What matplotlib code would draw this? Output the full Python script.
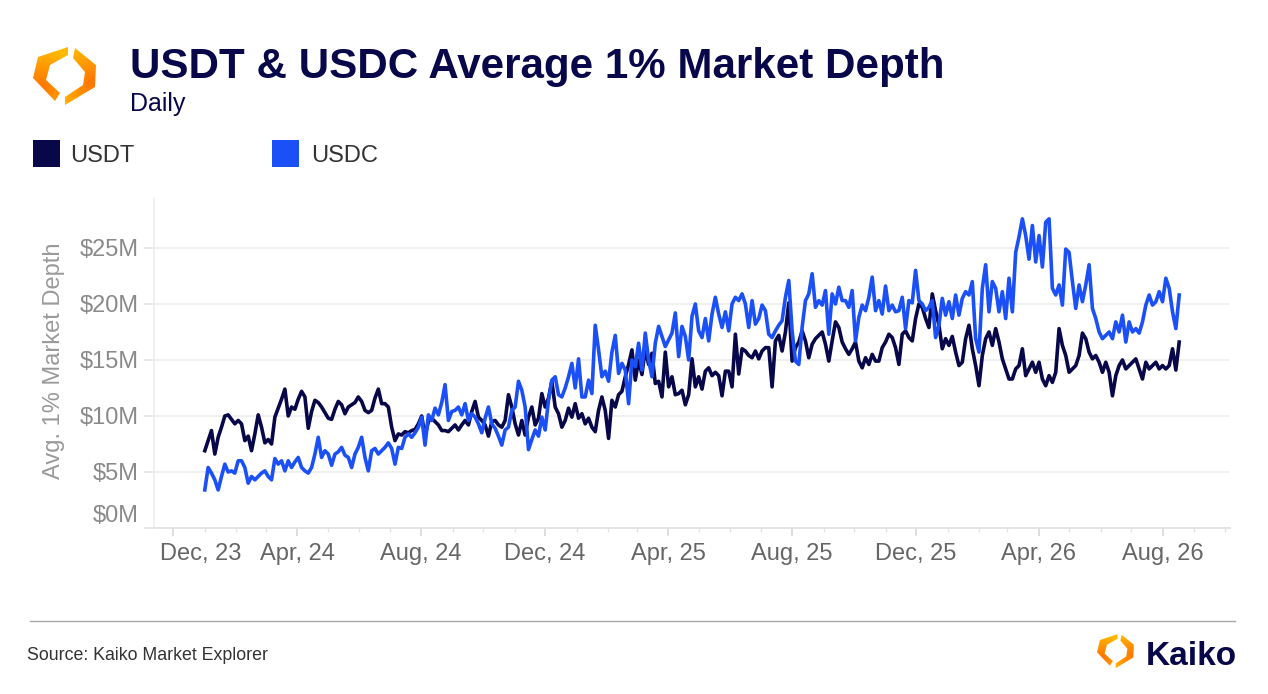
"""
USDT & USDC average 1% market depth, daily - Kaiko style chart
"""

import matplotlib
matplotlib.use("Agg")
import matplotlib.pyplot as plt
import matplotlib.dates as mdates
import matplotlib.transforms as mtransforms
from matplotlib.patches import Rectangle, Polygon
from matplotlib.colors import LinearSegmentedColormap
import numpy as np
import pandas as pd

plt.rcParams["font.family"] = ["Liberation Sans", "DejaVu Sans"]

# colours
NAVY = "#07074a"
BLUE = "#1a50f5"
ORANGE = "#ff7400"
YELLOW = "#ffb800"

# series range (daily data, sampled every ~3 days)
START = "2024-01-01"
END = "2026-08-17"

# values in $M
usdt = [
    6.9, 7.8, 8.7, 6.6, 8.1, 9.0, 10.0, 10.1, 9.7, 9.3,
    9.6, 9.3, 7.8, 8.2, 6.9, 8.4, 10.1, 9.0, 7.6, 7.9,
    7.5, 9.9, 10.7, 11.5, 12.4, 10.0, 10.8, 10.6, 11.5, 12.2,
    11.7, 8.9, 10.4, 11.4, 11.2, 10.8, 10.3, 9.8, 9.7, 10.6,
    11.3, 11.0, 10.2, 10.8, 11.0, 11.2, 11.7, 11.3, 10.5, 10.3,
    10.5, 11.6, 12.4, 11.1, 11.1, 10.8, 9.0, 7.8, 8.4, 8.3,
    8.6, 8.5, 8.7, 8.8, 9.3, 10.0, 8.2, 9.5, 9.8, 9.5,
    9.2, 8.7, 8.7, 8.6,
    8.9, 9.2, 8.75, 9.2, 9.6, 9.2, 10.4, 11.3, 9.9, 9.6,
    9.2, 8.2, 9.5, 9.6, 9.2, 9.0, 9.6, 11.9, 10.8, 9.3,
    8.3, 9.6, 8.3, 9.9, 10.8, 9.2, 9.8, 12.0, 10.8, 11.6,
    13.1, 10.8, 10.2, 9.0, 9.6, 10.7, 9.9, 11.1, 9.8, 10.2,
    9.3, 9.8, 9.0, 8.6, 10.5, 11.7, 10.5, 8.0, 11.4, 10.8,
    11.9, 12.2, 13.5, 14.6, 15.9, 13.2, 15.0, 13.7, 16.0, 14.6,
    15.6, 12.9, 13.1, 11.7, 15.7, 12.6, 13.5, 11.9, 12.0, 12.3,
    11.0, 11.9, 15.1,
    12.6, 13.5, 12.4, 14.0, 14.3, 13.6, 13.9, 13.6, 11.8, 14.0,
    14.0, 12.6, 17.3, 13.75, 16.0, 15.8, 15.4, 15.2, 15.8, 15.1,
    15.8, 16.1, 16.1, 12.6, 16.7, 17.2, 15.8, 17.5, 20.1, 14.9,
    16.1, 16.6, 17.6, 16.7, 15.2, 16.4, 16.9, 17.2, 17.5, 16.4,
    14.9, 16.7, 18.4, 17.9, 16.6, 16.0, 15.5, 16.0, 16.6, 14.9,
    14.3, 15.2, 14.6, 15.5, 14.9, 14.9, 16.1, 16.6, 17.3, 17.0,
    16.1, 14.6, 17.3, 17.6, 17.0, 16.7, 18.7, 20.0, 19.7, 18.7,
    17.9, 20.9, 19.4,
    18.1, 16.0, 16.9, 16.3, 17.1, 15.7, 14.5, 14.8, 16.9, 18.1,
    16.0, 14.5, 12.7, 15.4, 16.9, 17.5, 16.3, 17.8, 16.6, 15.1,
    14.2, 13.3, 13.3, 14.2, 14.5, 16.0, 13.6, 14.2, 14.8, 13.9,
    14.8, 13.3, 12.7, 13.6, 13.0, 13.9, 17.8, 16.3, 15.4, 13.9,
    14.2, 14.5, 15.4, 17.4, 16.9, 15.7, 15.1, 15.4, 14.8, 13.9,
    14.8, 13.9, 11.8, 13.6, 14.5, 15.0, 14.2, 14.5, 14.8, 15.1,
    14.2, 13.3, 14.8, 14.2, 14.5, 14.8, 14.2, 14.5, 14.2, 14.5,
    16.0, 14.1, 16.6,
]

usdc = [
    3.4, 5.4, 4.9, 4.3, 3.4, 4.6, 5.7, 5.0, 5.1, 4.9,
    6.0, 6.0, 5.4, 4.0, 4.6, 4.3, 4.6, 4.9, 5.1, 4.6,
    4.3, 6.2, 5.7, 6.0, 5.1, 6.0, 5.4, 5.9, 6.3, 5.4,
    5.1, 4.9, 5.4, 6.6, 8.1, 6.3, 6.9, 6.6, 5.6, 6.6,
    6.8, 7.2, 6.5, 6.3, 5.4, 6.6, 7.2, 8.1, 6.3, 5.1,
    6.9, 7.1, 6.6, 6.9, 7.2, 7.6, 7.1, 5.7, 7.2, 7.1,
    8.1, 8.4, 8.1, 8.5, 9.0, 9.9, 7.4, 10.1, 9.6, 10.7,
    10.1, 11.2, 12.8, 9.6,
    10.4, 10.5, 10.8, 10.1, 11.1, 9.6, 10.2, 9.9, 9.3, 8.5,
    9.8, 10.8, 9.3, 8.9, 8.2, 7.4, 8.75, 9.0, 10.5, 10.8,
    13.1, 12.3, 10.8, 7.0, 7.9, 8.75, 8.2, 9.9, 8.75, 11.4,
    13.2, 13.5, 11.9, 11.7, 12.5, 13.5, 14.7, 12.5, 15.1, 11.7,
    11.7, 13.2, 12.0, 18.1, 15.9, 13.5, 14.0, 13.1, 15.7, 17.2,
    13.8, 14.7, 14.1, 11.1, 15.0, 14.4, 16.5, 14.1, 17.4, 15.0,
    13.5, 16.5, 18.0, 17.1, 16.2, 16.8, 17.4, 19.2, 15.3, 18.0,
    17.1, 15.0, 18.9,
    20.0, 17.6, 17.0, 18.7, 16.7, 19.1, 20.6, 19.1, 17.9, 19.3,
    17.6, 20.0, 20.6, 20.3, 20.9, 20.0, 17.9, 20.3, 18.2, 18.7,
    19.9, 19.4, 17.3, 17.0, 17.6, 18.1, 18.5, 20.6, 22.1, 17.6,
    14.9, 14.6, 17.9, 20.3, 20.9, 22.7, 19.7, 20.3, 19.9, 21.2,
    17.3, 20.9, 20.0, 21.5, 20.3, 20.3, 19.7, 21.2, 16.7, 18.8,
    19.9, 19.4, 20.6, 22.4, 19.4, 20.3, 19.1, 21.6, 19.4, 19.9,
    19.3, 19.4, 20.6, 17.8, 20.3, 20.1, 23.0, 20.3, 20.0, 19.4,
    19.7, 20.3, 17.0,
    18.1, 20.5, 19.0, 20.2, 18.7, 20.8, 19.0, 20.5, 21.1, 20.8,
    22.0, 16.9, 15.7, 21.4, 23.5, 19.3, 22.0, 21.4, 19.3, 21.1,
    18.7, 22.3, 19.3, 24.6, 26.0, 27.6, 26.1, 24.0, 27.0, 23.75,
    26.1, 23.3, 27.3, 27.6, 21.4, 20.8, 21.7, 19.9, 24.9, 24.6,
    22.0, 19.6, 21.7, 20.2, 21.7, 23.5, 19.6, 18.7, 17.5, 16.9,
    17.2, 17.5, 16.9, 18.4, 17.5, 19.0, 16.6, 18.4, 17.5, 17.8,
    17.4, 18.4, 19.9, 20.8, 19.9, 20.2, 21.1, 20.2, 22.3, 21.4,
    19.3, 17.8, 20.8,
]

y_ticks = [0, 5, 10, 15, 20, 25]
y_labels = ["$0M", "$5M", "$10M", "$15M", "$20M", "$25M"]
x_ticks = ["2023-12-01", "2024-04-01", "2024-08-01", "2024-12-01", "2025-04-01",
           "2025-08-01", "2025-12-01", "2026-04-01", "2026-08-01"]
x_labels = ["Dec, 23", "Apr, 24", "Aug, 24", "Dec, 24", "Apr, 25",
            "Aug, 25", "Dec, 25", "Apr, 26", "Aug, 26"]

W, H = 1268, 694


def px_rect(l, t, r, b):
    """figure rect from pixel box (top-left origin)"""
    return [l / W, 1 - b / H, (r - l) / W, (b - t) / H]


def draw_icon(a, ox, oy, s):
    """Kaiko mark: two bracket pieces of a hexagon, local box ~65x62 px"""
    pieces = [
        # outer edge, inner edge, hot (orange) spot
        ([(35, 2), (5, 12), (0, 33), (22, 56)],
         [(35, 10), (17, 20), (13, 35), (27, 48)], (8, 42)),
        ([(42, 3), (63, 20), (62, 42), (32, 60)],
         [(40, 13), (52, 27), (50, 40), (32, 52)], (60, 38)),
    ]
    cm = LinearSegmentedColormap.from_list("k", [ORANGE, "#ff9500", YELLOW])
    gx, gy = np.meshgrid(np.linspace(0, 65, 66), np.linspace(0, 62, 63))
    for outer, inner, hot in pieces:
        pts = [(ox + x * s, oy + y * s) for x, y in outer + inner[::-1]]
        poly = Polygon(pts, closed=True, facecolor="none", edgecolor="none")
        a.add_patch(poly)
        d = np.hypot(gx - hot[0], gy - hot[1])
        d = np.clip(d / 38, 0, 1)
        im = a.imshow(d, cmap=cm, aspect="auto", vmin=0, vmax=1,
                      extent=(ox, ox + 65 * s, oy + 62 * s, oy),
                      interpolation="bilinear", zorder=2)
        im.set_clip_path(poly)


fig = plt.figure(figsize=(W / 100, H / 100), dpi=100)

# ---- main chart
ax = fig.add_axes(px_rect(154, 198, 1230, 528))
ax.set_facecolor("none")
dates = pd.date_range(START, END, periods=len(usdt))
ax.plot(dates, usdt, color=NAVY, lw=2.6, zorder=3, solid_joinstyle="round")
ax.plot(dates, usdc, color=BLUE, lw=2.6, zorder=4, solid_joinstyle="round")

ax.set_xlim(pd.Timestamp("2023-11-12"), pd.Timestamp("2026-10-06"))
ax.set_ylim(0, 29.46)

ax.set_yticks(y_ticks)
ax.set_yticklabels(y_labels)
ax.set_xticks(pd.to_datetime(x_ticks))
ax.set_xticklabels(x_labels)
ax.xaxis.set_minor_locator(mdates.MonthLocator())

ax.grid(axis="y", color="#efefef", lw=1.3, zorder=0)
ax.set_axisbelow(True)
for side in ("top", "right"):
    ax.spines[side].set_visible(False)
ax.spines["left"].set_color("#eeeeee")
ax.spines["left"].set_linewidth(1.2)
ax.spines["bottom"].set_color("#e2e2e2")
ax.spines["bottom"].set_linewidth(1.3)

ax.tick_params(axis="y", length=7.2, width=1.2, color="#e6e6e6", pad=3.6,
               labelsize=17, labelcolor="#8a8a8a")
ax.tick_params(axis="x", which="major", length=5.8, width=1.2, color="#d8d8d8",
               pad=5.2, labelsize=17, labelcolor="#666666")
ax.tick_params(axis="x", which="minor", length=3, width=1.0, color="#e2e2e2")

# nudge first x label right and $0M label up, as in the original
lbl = ax.get_xticklabels()[0]
lbl.set_transform(lbl.get_transform() + mtransforms.ScaledTranslation(
    27 / 100, 0, fig.dpi_scale_trans))
lbl = ax.get_yticklabels()[0]
lbl.set_transform(lbl.get_transform() + mtransforms.ScaledTranslation(
    0, 15 / 100, fig.dpi_scale_trans))

# ---- decorations in pixel coordinates
deco = fig.add_axes([0, 0, 1, 1], zorder=5)
deco.patch.set_alpha(0)
deco.axis("off")

draw_icon(deco, 33, 45, 1.0)
draw_icon(deco, 1097, 633, 0.585)

deco.text(130, 78, "USDT & USDC Average 1% Market Depth", fontsize=30.3,
          fontweight="bold", color=NAVY, va="baseline", ha="left")
deco.text(130, 111, "Daily", fontsize=18, color=NAVY, va="baseline", ha="left")

# legend
deco.add_patch(Rectangle((33, 140), 27, 27, color=NAVY, lw=0))
deco.text(70, 162, "USDT", fontsize=17, color="#333333", va="baseline")
deco.add_patch(Rectangle((272, 140), 27, 27, color=BLUE, lw=0))
deco.text(311, 162, "USDC", fontsize=17, color="#333333", va="baseline")

deco.text(54, 361, "Avg. 1% Market Depth", fontsize=17, color="#9a9a9a",
          rotation=90, ha="center", va="center")

deco.plot([30, 1235], [621, 621], color="#a8a8a8", lw=1.0)
deco.text(27, 655, "Source: Kaiko Market Explorer", fontsize=12.8,
          color="#333333", va="center", ha="left")
deco.text(1146, 665, "Kaiko", fontsize=24, fontweight="bold", color=NAVY,
          va="baseline", ha="left")

deco.set_xlim(0, W)
deco.set_ylim(H, 0)

fig.savefig("out.png", dpi=100)
plt.close(fig)
